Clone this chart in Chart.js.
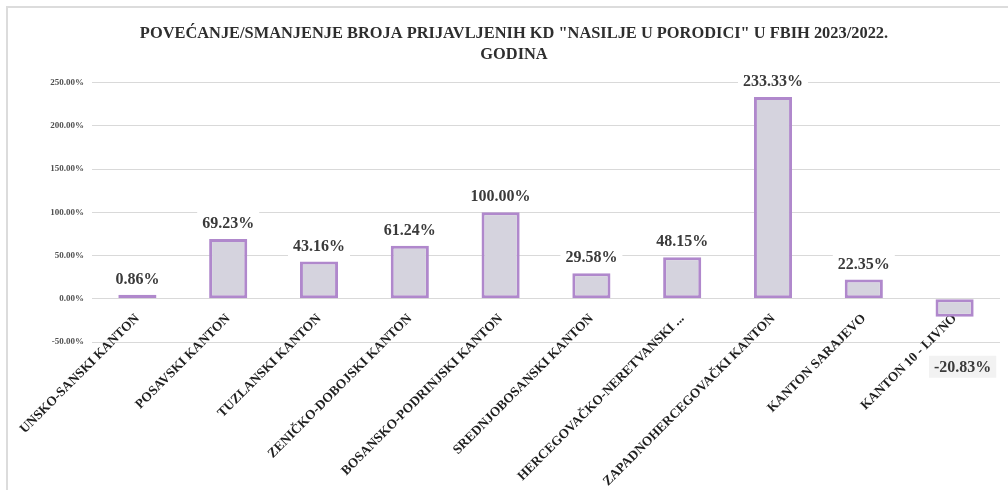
<!DOCTYPE html>
<html>
<head>
<meta charset="utf-8">
<script src="https://cdn.jsdelivr.net/npm/chart.js@4.4.1/dist/chart.umd.min.js"></script>
<style>
  html, body { margin: 0; padding: 0; background: #fff; }
  #wrap { position: relative; width: 1008px; height: 490px; overflow: hidden; }
  #frame { position: absolute; left: 6px; top: 6px; width: 1010px; height: 500px;
           border: 2px solid #dcdcdc; pointer-events: none; box-sizing: border-box; }
</style>
</head>
<body>
<div id="wrap">
  <canvas id="changeChart"></canvas>
  <div id="frame"></div>
</div>
<script>
const cantons = [
  'UNSKO-SANSKI KANTON',
  'POSAVSKI KANTON',
  'TUZLANSKI KANTON',
  'ZENIČKO-DOBOJSKI KANTON',
  'BOSANSKO-PODRINJSKI KANTON',
  'SREDNJOBOSANSKI KANTON',
  'HERCEGOVAČKO-NERETVANSKI ...',
  'ZAPADNOHERCEGOVAČKI KANTON',
  'KANTON SARAJEVO',
  'KANTON 10 - LIVNO'
];
const changes = [0.86, 69.23, 43.16, 61.24, 100.00, 29.58, 48.15, 233.33, 22.35, -20.83];
const titleLines = [
  'POVEĆANJE/SMANJENJE BROJA PRIJAVLJENIH KD "NASILJE U PORODICI" U FBIH 2023/2022.',
  'GODINA'
];
const yMin = -50, yMax = 250, yStep = 50;

(function(){
    const serif = '"Liberation Serif", "DejaVu Serif", serif';
    const ctx = document.getElementById('changeChart').getContext('2d');

    // value labels with a small box behind them, like the spreadsheet
    const barLabels = {
        id: 'barLabels',
        afterDatasetsDraw(chart){
            const c = chart.ctx;
            const meta = chart.getDatasetMeta(0);
            c.save();
            c.font = 'bold 16px ' + serif;
            c.textAlign = 'center';
            c.textBaseline = 'middle';
            meta.data.forEach((bar, i) => {
                const v = changes[i];
                const txt = v.toFixed(2) + '%';
                const w = c.measureText(txt).width + 10;
                const h = 22;
                let cx = bar.x, cy;
                if (v >= 0) {
                    cy = bar.y - 16;
                    c.fillStyle = '#ffffff';
                } else {
                    cx = bar.x + 8;
                    cy = bar.y + 50;
                    c.fillStyle = '#f2f2f2';
                }
                c.fillRect(cx - w/2, cy - h/2, w, h);
                c.fillStyle = '#3a3a3a';
                c.fillText(txt, cx, cy + 1);
            });
            c.restore();
        }
    };

    new Chart(ctx, {
        type: 'bar',
        data: {
            labels: cantons,
            datasets: [{
                data: changes,
                backgroundColor: '#d5d3de',
                borderColor: '#b088cc',
                borderWidth: 3,
                borderSkipped: false,
                minBarLength: 4,
                categoryPercentage: 1,
                barPercentage: 0.42
            }]
        },
        options: {
            responsive: true,
            maintainAspectRatio: false,
            animation: false,
            layout: { padding: { top: 23, left: 28, right: 8, bottom: 148 } },
            plugins: {
                legend: { display: false },
                tooltip: { enabled: false },
                title: {
                    display: true,
                    text: titleLines,
                    color: '#2e2e2e',
                    font: { family: serif, size: 16.4, weight: 'bold', lineHeight: 1.3 },
                    padding: { top: 0, bottom: 17 }
                }
            },
            scales: {
                x: {
                    position: { y: 0 },
                    grid: { display: false },
                    border: { display: false },
                    ticks: {
                        autoSkip: false,
                        minRotation: 45,
                        maxRotation: 45,
                        padding: 4,
                        color: '#1e1e1e',
                        font: { family: serif, size: 13.3, weight: 'bold' }
                    }
                },
                y: {
                    min: yMin,
                    max: yMax,
                    afterFit: s => { s.width = 64; },
                    grid: { color: '#d9d9d9', lineWidth: 1, drawTicks: false },
                    border: { display: false },
                    ticks: {
                        stepSize: yStep,
                        padding: 8,
                        color: '#505050',
                        font: { family: serif, size: 9, weight: 'bold' },
                        callback: v => Number(v).toFixed(2) + '%'
                    }
                }
            }
        },
        plugins: [barLabels]
    });
})();
</script>
</body>
</html>
